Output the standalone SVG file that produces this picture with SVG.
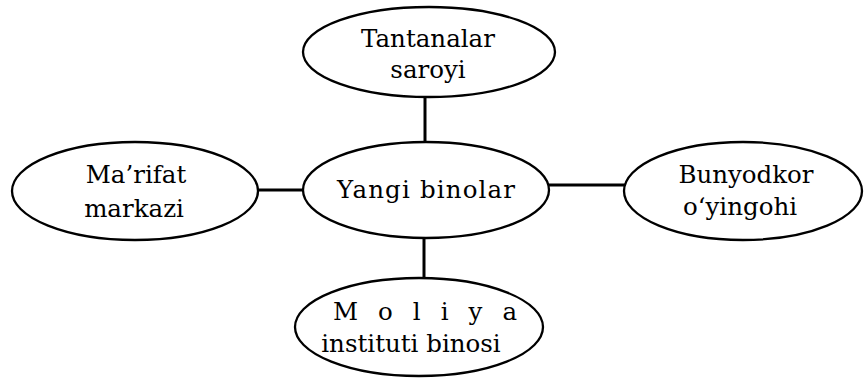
<svg xmlns="http://www.w3.org/2000/svg" width="864" height="378" viewBox="0 0 864 378">
  <style>
    .node ellipse { fill: #ffffff; stroke: #000000; stroke-width: 2.3; }
    .node text { font-family: "DejaVu Serif", "Liberation Serif", serif; font-size: 24.5px; fill: #000000; text-anchor: middle; }
    .conn line { stroke: #000000; stroke-width: 3; }
  </style>
  <rect x="0" y="0" width="864" height="378" fill="#ffffff"/>
  <g id="connectors" class="conn">
    <line x1="425" y1="96" x2="425" y2="143"/>
    <line x1="424" y1="237" x2="424" y2="279"/>
    <line x1="257" y1="190" x2="304" y2="190"/>
    <line x1="548" y1="185" x2="625" y2="185"/>
  </g>
  <g id="node-top" class="node">
    <ellipse cx="429" cy="52" rx="126" ry="45"/>
    <text x="428" y="47">Tantanalar</text>
    <text x="428" y="78">saroyi</text>
  </g>
  <g id="node-center" class="node">
    <ellipse cx="426" cy="190" rx="123" ry="48"/>
    <text x="426" y="198" textLength="178" lengthAdjust="spacing">Yangi binolar</text>
  </g>
  <g id="node-left" class="node">
    <ellipse cx="135" cy="191" rx="123" ry="49"/>
    <text x="136" y="183">Ma’rifat</text>
    <text x="134" y="217">markazi</text>
  </g>
  <g id="node-right" class="node">
    <ellipse cx="743" cy="191" rx="119" ry="49"/>
    <text x="746" y="183">Bunyodkor</text>
    <text x="740" y="215">o‘yingohi</text>
  </g>
  <g id="node-bottom" class="node">
    <ellipse cx="419" cy="327" rx="124" ry="49"/>
    <text x="425" y="320" textLength="184" lengthAdjust="spacing">M o l i y a</text>
    <text x="411" y="352">instituti binosi</text>
  </g>
</svg>
